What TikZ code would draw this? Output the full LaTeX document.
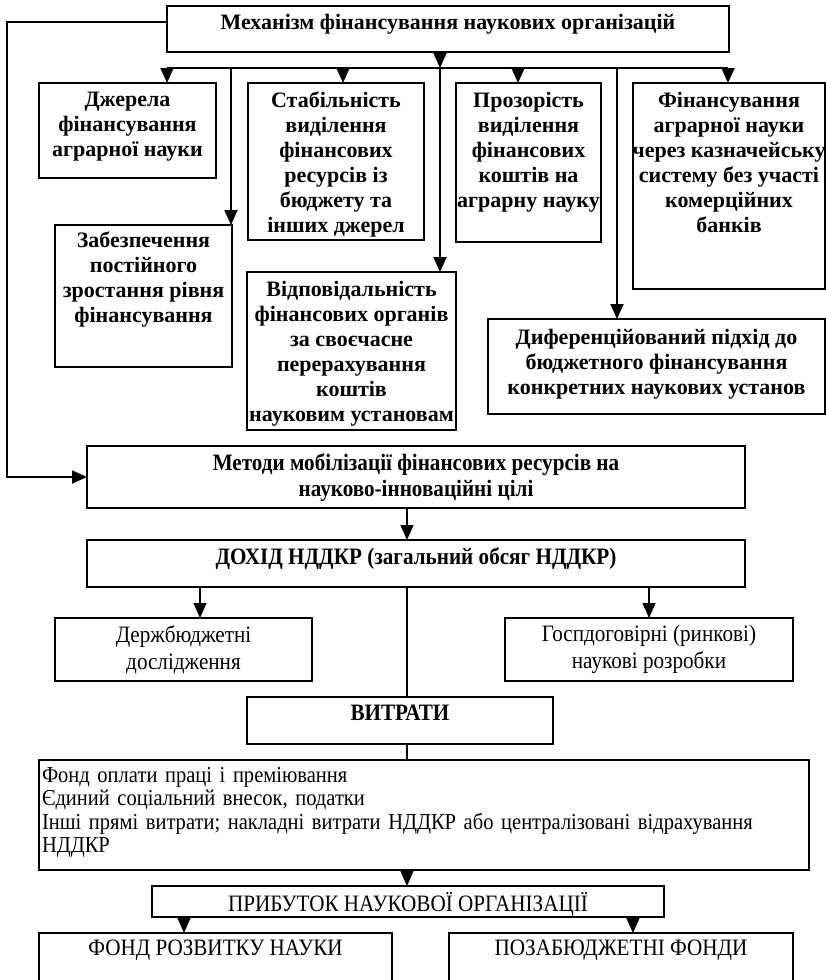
\documentclass[tikz,border=0pt]{standalone}
\usepackage{fontspec}
\setmainfont{Liberation Serif}
\newfontfamily\narrowfont[FakeStretch=0.9]{Liberation Serif}
\usetikzlibrary{arrows.meta}

\begin{document}
\begin{tikzpicture}[x=1pt,y=-1pt,>={Triangle[length=15pt,width=13pt]},line join=miter,
	box/.style={draw,line width=1.8pt,anchor=north west,inner sep=0pt,outer sep=0pt},
	head/.style={anchor=north,align=center,inner sep=0pt,yshift=-9pt,font=\bfseries\fontsize{22}{25}\selectfont},
	lowhead/.style={anchor=north,align=center,inner sep=0pt,yshift=-7pt,font=\narrowfont\bfseries\fontsize{23.5}{26}\selectfont},
	lowtext/.style={anchor=north,align=center,inner sep=0pt,yshift=-7pt,font=\narrowfont\fontsize{23.5}{27}\selectfont},
	link/.style={line width=1.8pt},
	thinlink/.style={line width=1.1pt}]
					\useasboundingbox (0,0) rectangle (826,980);
					\clip (0,0) rectangle (826,980);
					\node[box,minimum width=562,minimum height=46,label={[head,yshift=1pt]90:{Механізм фінансування наукових організацій}}] (mech) at (167,6) {};
					\node[box,minimum width=177,minimum height=95,label={[head]90:{Джерела\\фінансування\\аграрної науки}}] (dzh) at (39,83) {};
					\node[box,minimum width=176,minimum height=157,label={[head]90:{Стабільність\\виділення\\фінансових\\ресурсів із\\бюджету та\\інших джерел}}] (stab) at (248,83) {};
					\node[box,minimum width=145,minimum height=159,label={[head]90:{Прозорість\\виділення\\фінансових\\коштів на\\аграрну науку}}] (proz) at (456,83) {};
					\node[box,minimum width=192,minimum height=206,label={[head]90:{Фінансування\\аграрної науки\\через казначейську\\систему без участі\\комерційних\\банків}}] (fin) at (633,83) {};
					\node[box,minimum width=177,minimum height=142,label={[head,yshift=2pt]90:{Забезпечення\\постійного\\зростання рівня\\фінансування}}] (zab) at (55,225) {};
					\node[box,minimum width=209,minimum height=158,label={[head]90:{Відповідальність\\фінансових органів\\за своєчасне\\перерахування\\коштів\\науковим установам}}] (vidp) at (247,272) {};
					\node[box,minimum width=337,minimum height=95,label={[head,yshift=-1pt]90:{Диференційований підхід до\\бюджетного фінансування\\конкретних наукових установ}}] (dyf) at (488,319) {};
					\node[box,minimum width=658,minimum height=62,label={[lowhead]90:{Методи мобілізації фінансових ресурсів на\\науково-інноваційні цілі}}] (metod) at (87,446) {};
					\node[box,minimum width=658,minimum height=47,label={[lowhead]90:{ДОХІД НДДКР (загальний обсяг НДДКР)}}] (dokhid) at (87,540) {};
					\node[box,line width=1.5pt,minimum width=257,minimum height=63,label={[lowtext]90:{Держбюджетні\\дослідження}}] (derzh) at (55,618) {};
					\node[box,line width=1.5pt,minimum width=288,minimum height=63,label={[lowtext]90:{Госпдоговірні (ринкові)\\наукові розробки}}] (gosp) at (505,618) {};
					\node[box,line width=1.5pt,minimum width=306,minimum height=47,label={[lowhead,yshift=-1pt]90:{ВИТРАТИ}}] (vytr) at (247,697) {};
					\node[box,line width=1.5pt,minimum width=770,minimum height=110,label={[lowtext,text width=764pt,align=left,font=\narrowfont\fontsize{22.8}{23.5}\selectfont]90:{Фонд оплати праці і преміювання\\Єдиний соціальний внесок, податки\\Інші прямі витрати; накладні витрати НДДКР або централізовані відрахування\\НДДКР}}] (fond) at (39,760) {};
					\node[box,line width=1.5pt,minimum width=512,minimum height=31,label={[lowtext,yshift=1pt]90:{ПРИБУТОК НАУКОВОЇ ОРГАНІЗАЦІЇ}}] (prybut) at (152,886) {};
					\node[box,line width=1.5pt,minimum width=353,minimum height=60,label={[lowtext]90:{ФОНД РОЗВИТКУ НАУКИ}}] (frn) at (39,933) {};
					\node[box,line width=1.5pt,minimum width=344,minimum height=60,label={[lowtext]90:{ПОЗАБЮДЖЕТНІ ФОНДИ}}] (pozab) at (449,933) {};
					\coordinate (b0) at (167,68);
					\coordinate (b1) at (728,68);
					\coordinate (t0) at (440,68);
					\draw[link,->] (t0 |- mech.south) -- (t0);
					\draw[link] (b0) -- (b1);
					\foreach \xx/\nn in {167/dzh,231/zab,343/stab,440/vidp,518/proz,617/dyf,728/fin}
						\draw[link,->] (b0 -| \xx,0) -- (\xx,0 |- \nn.north);
					\draw[link,->] ([yshift=7pt]mech.west) -| (7,0 |- metod.west) -- (metod.west);
					\draw[thinlink,->] ([xshift=-9pt]metod.south) -- ([xshift=-9pt]dokhid.north);
					\draw[thinlink,->] (200,0 |- dokhid.south) -- (200,0 |- derzh.north);
					\draw[thinlink,->] (gosp.north |- dokhid.south) -- (gosp.north);
					\draw[thinlink] (407,0 |- dokhid.south) -- (407,0 |- vytr.north);
					\draw[thinlink] (407,0 |- vytr.south) -- (407,0 |- fond.north);
					\draw[thinlink,->] (407,0 |- fond.south) -- (407,0 |- prybut.north);
					\draw[thinlink,->] (184,0 |- prybut.south) -- (184,0 |- frn.north);
					\draw[thinlink,->] (633,0 |- prybut.south) -- (633,0 |- pozab.north);
				\end{tikzpicture}
\end{document}
